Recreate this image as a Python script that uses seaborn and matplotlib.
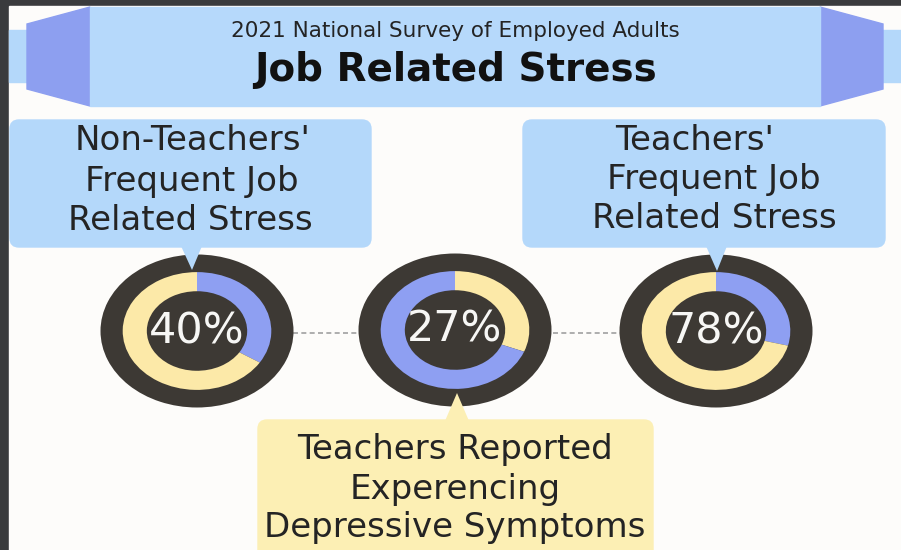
import matplotlib
matplotlib.use("Agg")
import matplotlib.pyplot as plt
import seaborn as sns
import pandas as pd
from matplotlib.patches import Rectangle, Polygon, FancyBboxPatch

# ---------------- data ----------------
title_small = "2021 National Survey of Employed Adults"
title_big = "Job Related Stress"
stat_values = [40, 27, 78]                  # percentages printed in the donuts
arc_share = [34, 31, 29]                    # share of the first (highlight) arc, clockwise from top
arc_first = ["blue", "yellow", "blue"]      # colour of the first arc in each donut
left_label = ["Non-Teachers'", "Frequent Job", "Related Stress"]
right_label = ["Teachers'", "Frequent Job", "Related Stress"]
bottom_label = ["Teachers Reported", "Experencing", "Depressive Symptoms"]

# ---------------- style ----------------
sns.set_theme(style="white")
plt.rcParams['font.family'] = ['DejaVu Sans']

W, H = 901, 550
BG = "#fdfcfa"
FRAME = "#3a3b3d"
LBLUE = "#b4d8fa"
PERI = "#8d9ff0"
DARK = "#3d3934"
BLUE = "#8e9ff2"
YEL = "#fce9a8"
YBOX = "#fcefb4"
TXT = "#242424"
COL = {"blue": BLUE, "yellow": YEL}

fig = plt.figure(figsize=(W / 100, H / 100), dpi=100)
fig.patch.set_facecolor(FRAME)

ax = fig.add_axes([0, 0, 1, 1])
ax.set_xlim(0, W)
ax.set_ylim(H, 0)
ax.axis("off")

# panel
ax.add_patch(Rectangle((9, 6), W - 9, H - 6, color=BG, zorder=0))
# ribbon band
ax.add_patch(Rectangle((9, 30), W - 9, 52, color=LBLUE, zorder=1))
# ribbon ends
ax.add_patch(Polygon([(27, 24), (90, 7), (90, 106), (27, 89)], closed=True, color=PERI, zorder=2))
ax.add_patch(Polygon([(820, 7), (883, 24), (883, 89), (820, 106)], closed=True, color=PERI, zorder=2))
# main banner
ax.add_patch(Rectangle((90, 7), 730, 99, color="#b6d9fb", zorder=3))
ax.text(455, 31, title_small, ha="center", va="center", fontsize=15.5, color=TXT, zorder=5)
ax.text(455, 70, title_big, ha="center", va="center", fontsize=28, fontweight="bold", color="#111111", zorder=5)

# callout boxes
ax.add_patch(FancyBboxPatch((10, 120), 361, 127, boxstyle="round,pad=0,rounding_size=9",
                            color=LBLUE, zorder=2))
ax.add_patch(FancyBboxPatch((523, 120), 362, 127, boxstyle="round,pad=0,rounding_size=9",
                            color=LBLUE, zorder=2))
ax.add_patch(FancyBboxPatch((258, 420), 395, 140, boxstyle="round,pad=0,rounding_size=9",
                            color=YBOX, zorder=2))

FS = 24.5
for txt, x, y in zip(left_label, [193, 192, 190], [140, 181, 221]):
    ax.text(x, y, txt, ha="center", va="center", fontsize=FS, color=TXT, zorder=5)
for txt, x, y in zip(right_label, [695, 714, 714], [140, 180, 219]):
    ax.text(x, y, txt, ha="center", va="center", fontsize=FS, color=TXT, zorder=5)
for txt, y in zip(bottom_label, [449, 489, 528]):
    ax.text(455, y, txt, ha="center", va="center", fontsize=FS, color=TXT, zorder=5)

# dashed connectors (seaborn)
conn = pd.DataFrame({"x": [293, 358, 553, 620], "y": [333, 333, 333, 333], "seg": [0, 0, 1, 1]})
sns.lineplot(data=conn, x="x", y="y", units="seg", estimator=None, ax=ax,
             color="#a0a0a0", lw=1.2, linestyle=(0, (3, 2)), legend=False, zorder=1)
ax.set_xlim(0, W)
ax.set_ylim(H, 0)
ax.axis("off")

# donuts
centers = [(197, 331), (455, 330), (716, 331)]
RX, RY = 96.5, 76.5
for (cx, cy), val, share, first in zip(centers, stat_values, arc_share, arc_first):
    dax = fig.add_axes([(cx - RX) / W, 1 - (cy + RY) / H, 2 * RX / W, 2 * RY / H])
    dax.pie([1], radius=1.0, colors=[DARK], wedgeprops=dict(linewidth=0))
    other = "yellow" if first == "blue" else "blue"
    dax.pie([share, 100 - share], radius=0.77, colors=[COL[first], COL[other]],
            startangle=90, counterclock=False, wedgeprops=dict(width=0.25, linewidth=0))
    dax.set_aspect("auto")
    dax.set_xlim(-1, 1)
    dax.set_ylim(-1, 1)
    dax.axis("off")
    dax.text(0, 0, f"{val}%", ha="center", va="center", fontsize=31, color="#f7f7f5")

# overlay for callout pointers
oax = fig.add_axes([0, 0, 1, 1])
oax.set_xlim(0, W)
oax.set_ylim(H, 0)
oax.axis("off")
oax.patch.set_alpha(0)
oax.add_patch(Polygon([(181, 246), (202, 246), (192, 270)], closed=True, color=LBLUE, lw=0))
oax.add_patch(Polygon([(706, 246), (727, 246), (717, 271)], closed=True, color=LBLUE, lw=0))
oax.add_patch(Polygon([(445, 421), (469, 421), (457, 393)], closed=True, color=YBOX, lw=0))

fig.savefig("out.png", dpi=100, facecolor=fig.get_facecolor())
